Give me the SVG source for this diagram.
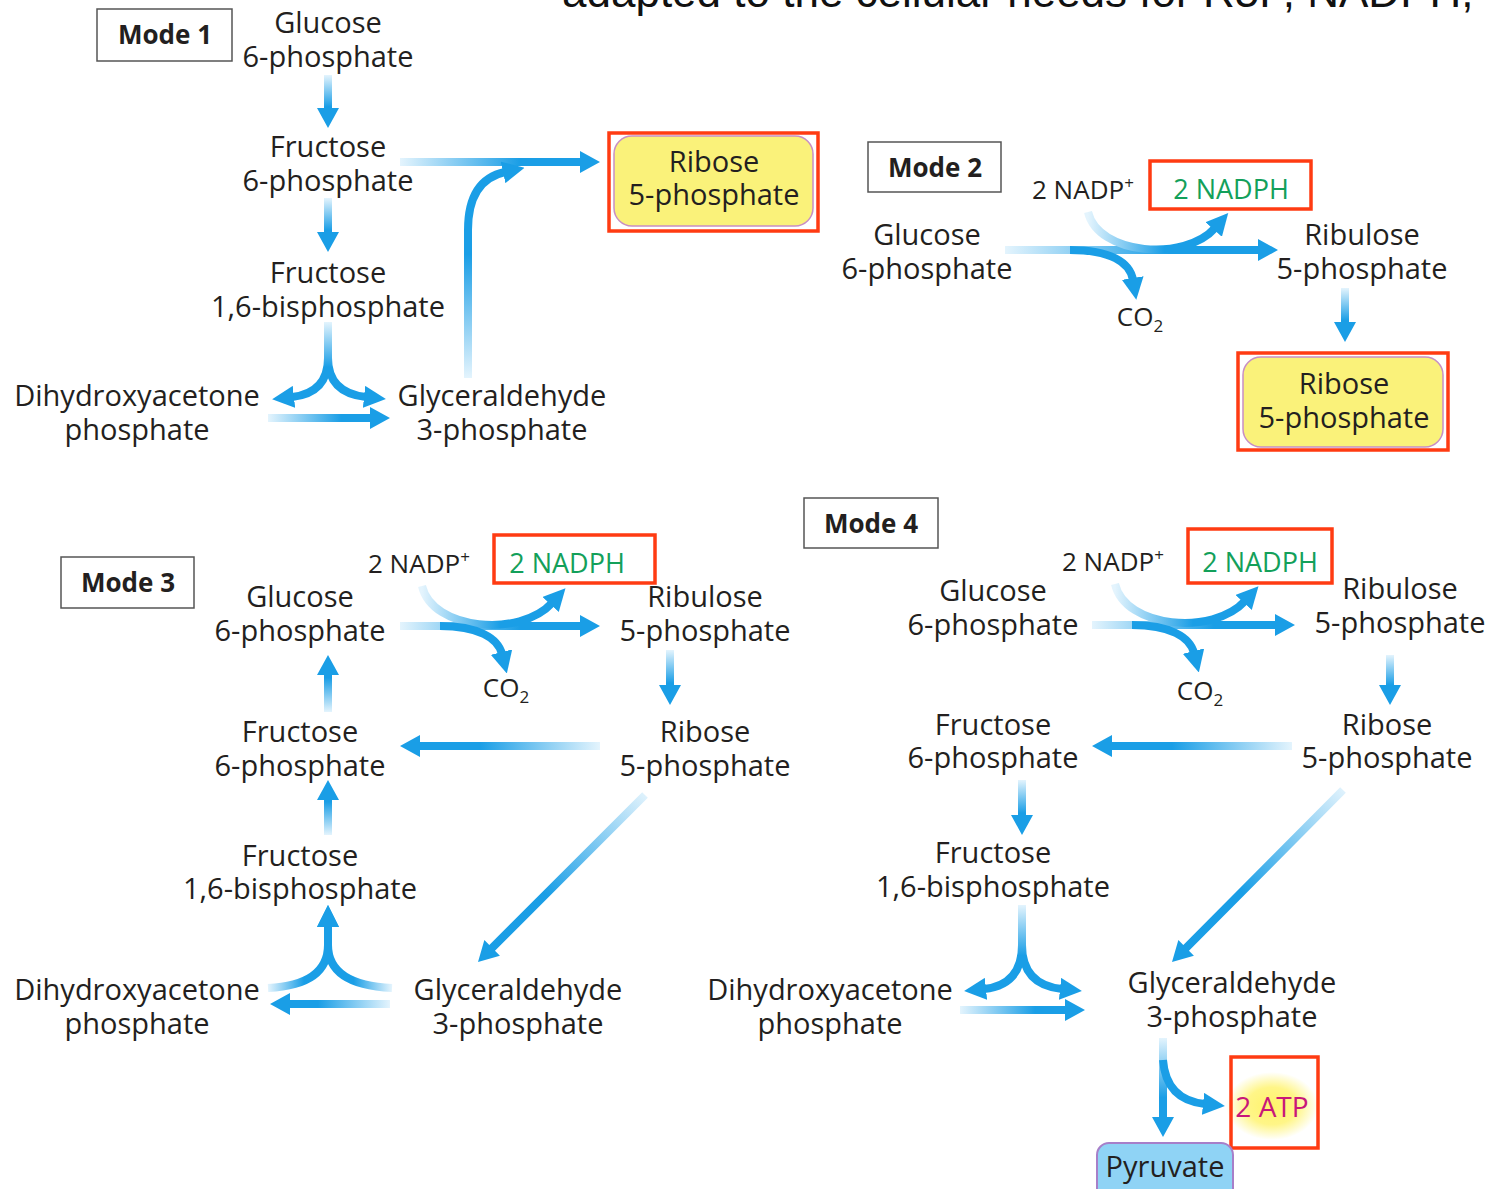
<svg xmlns="http://www.w3.org/2000/svg" width="1492" height="1189" viewBox="0 0 1492 1189">
<style>
.t{font-family:"Open Sans","Liberation Sans",sans-serif;font-size:29px;fill:#231f20;text-anchor:middle}
.s{font-family:"Open Sans","Liberation Sans",sans-serif;font-size:26px;fill:#231f20}
.g{font-family:"Open Sans","Liberation Sans",sans-serif;font-size:27px;fill:#13a05a;text-anchor:middle}
.m{font-family:"Open Sans","Liberation Sans",sans-serif;font-size:26px;font-weight:bold;fill:#231f20;text-anchor:middle}
.mb{fill:#fff;stroke:#555;stroke-width:1.5}
.rb{fill:none;stroke:#ff3b12;stroke-width:3.5}
.yb{fill:#faf27a;stroke:#c88fc3;stroke-width:1.5}
.c{fill:none;stroke-width:8;marker-end:url(#ah)}
</style>
<defs>
<marker id="ah" markerUnits="userSpaceOnUse" markerWidth="22" markerHeight="22" viewBox="0 0 22 22" refX="2" refY="11" orient="auto"><path d="M0,0 L22,11 L0,22 z" fill="#1a9ee6"/></marker>
<linearGradient id="gR" x1="0" y1="0" x2="1" y2="0"><stop offset="0" stop-color="#e4f4fd"/><stop offset="0.6" stop-color="#1a9ee6"/><stop offset="1" stop-color="#1a9ee6"/></linearGradient>
<linearGradient id="gL" x1="1" y1="0" x2="0" y2="0"><stop offset="0" stop-color="#e4f4fd"/><stop offset="0.6" stop-color="#1a9ee6"/><stop offset="1" stop-color="#1a9ee6"/></linearGradient>
<linearGradient id="gD" x1="0" y1="0" x2="0" y2="1"><stop offset="0" stop-color="#e4f4fd"/><stop offset="0.6" stop-color="#1a9ee6"/><stop offset="1" stop-color="#1a9ee6"/></linearGradient>
<linearGradient id="gU" x1="0" y1="1" x2="0" y2="0"><stop offset="0" stop-color="#e4f4fd"/><stop offset="0.6" stop-color="#1a9ee6"/><stop offset="1" stop-color="#1a9ee6"/></linearGradient>
<linearGradient id="gDL" x1="1" y1="0" x2="0" y2="1"><stop offset="0" stop-color="#e4f4fd"/><stop offset="0.6" stop-color="#1a9ee6"/><stop offset="1" stop-color="#1a9ee6"/></linearGradient>
<radialGradient id="glow"><stop offset="0" stop-color="#fff36a"/><stop offset="0.55" stop-color="#fff36a" stop-opacity="0.8"/><stop offset="1" stop-color="#fff36a" stop-opacity="0"/></radialGradient>
</defs>
<rect width="1492" height="1189" fill="#fff"/>
<text x="562" y="7" style="font-family:'Liberation Sans',sans-serif;font-size:44px;fill:#111">adapted to the cellular needs for R5P, NADPH,</text>

<g id="connectors">
<!-- Mode 1 -->
<polygon fill="url(#gD)" points="324,75 332,75 332,108 339,108 328,128 317,108 324,108"/>
<polygon fill="url(#gD)" points="324,198 332,198 332,232 339,232 328,252 317,232 324,232"/>
<polygon fill="url(#gR)" points="400,158 580,158 580,151 600,162 580,173 580,166 400,166"/>
<polygon fill="url(#gR)" points="268,414 370,414 370,407 390,418 370,429 370,422 268,422"/>
<path class="c" stroke="url(#gD)" d="M328,322 L328,358 Q328,393 292,397"/>
<path class="c" stroke="url(#gD)" d="M328,322 L328,358 Q328,393 366,397"/>
<path class="c" stroke="url(#gU)" d="M468,378 L468,230 Q468,180 505,172"/>
<!-- Mode 2 -->
<polygon fill="url(#gR)" points="1005,246 1258,246 1258,239 1278,250 1258,261 1258,254 1005,254"/>
<path class="c" stroke="url(#gR)" d="M1088,212 C1098,255 1185,262 1215,228"/>
<path class="c" stroke="#1a9ee6" d="M1070,250 C1110,250 1130,262 1133,280"/>
<polygon fill="url(#gD)" points="1341,288 1349,288 1349,322 1356,322 1345,342 1334,322 1341,322"/>
<!-- Mode 3 -->
<polygon fill="url(#gR)" points="400,622 580,622 580,615 600,626 580,637 580,630 400,630"/>
<path class="c" stroke="url(#gR)" d="M422,586 C432,630 520,638 552,603"/>
<path class="c" stroke="#1a9ee6" d="M440,626 C478,626 498,638 502,654"/>
<polygon fill="url(#gD)" points="666,650 674,650 674,685 681,685 670,705 659,685 666,685"/>
<polygon fill="url(#gL)" points="600,742 420,742 420,735 400,746 420,757 420,750 600,750"/>
<polygon fill="url(#gU)" points="324,712 324,675 317,675 328,655 339,675 332,675 332,712"/>
<polygon fill="url(#gU)" points="324,835 324,800 317,800 328,780 339,800 332,800 332,835"/>
<polygon fill="url(#gDL)" points="647.83,797.83 494.97,950.69 499.92,955.64 478,962 484.36,940.08 489.31,945.03 642.17,792.17"/>
<path class="c" stroke="url(#gR)" d="M268,988 Q328,985 328,945 L328,925"/>
<path class="c" stroke="url(#gL)" d="M392,988 Q328,985 328,945 L328,925"/>
<polygon fill="url(#gL)" points="390,1000 290,1000 290,993 270,1004 290,1015 290,1008 390,1008"/>
<!-- Mode 4 -->
<polygon fill="url(#gR)" points="1092,621 1275,621 1275,614 1295,625 1275,636 1275,629 1092,629"/>
<path class="c" stroke="url(#gR)" d="M1115,584 C1125,628 1213,636 1245,601"/>
<path class="c" stroke="#1a9ee6" d="M1132,625 C1170,625 1190,637 1194,653"/>
<polygon fill="url(#gD)" points="1386,655 1394,655 1394,685 1401,685 1390,705 1379,685 1386,685"/>
<polygon fill="url(#gL)" points="1292,742 1112,742 1112,735 1092,746 1112,757 1112,750 1292,750"/>
<polygon fill="url(#gD)" points="1018,780 1026,780 1026,815 1033,815 1022,835 1011,815 1018,815"/>
<path class="c" stroke="url(#gD)" d="M1022,905 L1022,945 Q1022,985 984,989"/>
<path class="c" stroke="url(#gD)" d="M1022,905 L1022,945 Q1022,985 1062,989"/>
<polygon fill="url(#gR)" points="960,1006 1065,1006 1065,999 1085,1010 1065,1021 1065,1014 960,1014"/>
<polygon fill="url(#gDL)" points="1345.83,792.83 1188.97,950.69 1193.92,955.64 1172,962 1178.36,940.08 1183.31,945.03 1340.17,787.17"/>
<polygon fill="url(#gD)" points="1159,1038 1167,1038 1167,1117 1174,1117 1163,1137 1152,1117 1159,1117"/>
<path class="c" stroke="#1a9ee6" d="M1163,1060 Q1166,1100 1205,1104"/>
</g>

<!-- Mode 1 -->
<g id="mode1"><rect class="mb" x="97" y="9" width="135" height="52"/><text class="m" x="165" y="44">Mode 1</text></g>
<g id="m1-g6p"><text class="t"><tspan x="328" y="33">Glucose</tspan><tspan x="328" dy="34">6-phosphate</tspan></text></g>
<g id="m1-f6p"><text class="t"><tspan x="328" y="157">Fructose</tspan><tspan x="328" dy="34">6-phosphate</tspan></text></g>
<g id="m1-fbp"><text class="t"><tspan x="328" y="283">Fructose</tspan><tspan x="328" dy="34">1,6-bisphosphate</tspan></text></g>
<g id="m1-dhap"><text class="t"><tspan x="137" y="406">Dihydroxyacetone</tspan><tspan x="137" dy="34">phosphate</tspan></text></g>
<g id="m1-gap"><text class="t"><tspan x="502" y="406">Glyceraldehyde</tspan><tspan x="502" dy="34">3-phosphate</tspan></text></g>
<g id="m1-r5p"><rect class="yb" x="614" y="136" width="199" height="90" rx="18"/><rect class="rb" x="609" y="133" width="209" height="98"/><text class="t"><tspan x="714" y="172">Ribose</tspan><tspan x="714" dy="33">5-phosphate</tspan></text></g>

<!-- Mode 2 -->
<g id="mode2"><rect class="mb" x="868" y="142" width="133" height="50"/><text class="m" x="935" y="177">Mode 2</text></g>
<g id="m2-nadp"><text class="s" x="1032" y="199">2 NADP<tspan font-size="17" dy="-10">+</tspan></text></g>
<g id="m2-nadph"><rect class="rb" x="1150" y="161" width="161" height="48"/><text class="g" x="1231" y="199">2 NADPH</text></g>
<g id="m2-g6p"><text class="t"><tspan x="927" y="245">Glucose</tspan><tspan x="927" dy="34">6-phosphate</tspan></text></g>
<g id="m2-co2"><text class="s" x="1140" y="326" text-anchor="middle">CO<tspan font-size="17" dy="6">2</tspan></text></g>
<g id="m2-ru5p"><text class="t"><tspan x="1362" y="245">Ribulose</tspan><tspan x="1362" dy="34">5-phosphate</tspan></text></g>
<g id="m2-r5p"><rect class="yb" x="1243" y="357" width="200" height="90" rx="18"/><rect class="rb" x="1238" y="353" width="210" height="97"/><text class="t"><tspan x="1344" y="394">Ribose</tspan><tspan x="1344" dy="34">5-phosphate</tspan></text></g>

<!-- Mode 3 -->
<g id="mode3"><rect class="mb" x="61" y="557" width="133" height="51"/><text class="m" x="128" y="592">Mode 3</text></g>
<g id="m3-nadp"><text class="s" x="368" y="573">2 NADP<tspan font-size="17" dy="-10">+</tspan></text></g>
<g id="m3-nadph"><rect class="rb" x="494" y="535" width="161" height="48"/><text class="g" x="567" y="573">2 NADPH</text></g>
<g id="m3-g6p"><text class="t"><tspan x="300" y="607">Glucose</tspan><tspan x="300" dy="34">6-phosphate</tspan></text></g>
<g id="m3-ru5p"><text class="t"><tspan x="705" y="607">Ribulose</tspan><tspan x="705" dy="34">5-phosphate</tspan></text></g>
<g id="m3-co2"><text class="s" x="506" y="697" text-anchor="middle">CO<tspan font-size="17" dy="6">2</tspan></text></g>
<g id="m3-r5p"><text class="t"><tspan x="705" y="742">Ribose</tspan><tspan x="705" dy="34">5-phosphate</tspan></text></g>
<g id="m3-f6p"><text class="t"><tspan x="300" y="742">Fructose</tspan><tspan x="300" dy="34">6-phosphate</tspan></text></g>
<g id="m3-fbp"><text class="t"><tspan x="300" y="866">Fructose</tspan><tspan x="300" dy="33">1,6-bisphosphate</tspan></text></g>
<g id="m3-dhap"><text class="t"><tspan x="137" y="1000">Dihydroxyacetone</tspan><tspan x="137" dy="34">phosphate</tspan></text></g>
<g id="m3-gap"><text class="t"><tspan x="518" y="1000">Glyceraldehyde</tspan><tspan x="518" dy="34">3-phosphate</tspan></text></g>

<!-- Mode 4 -->
<g id="mode4"><rect class="mb" x="804" y="498" width="134" height="50"/><text class="m" x="871" y="533">Mode 4</text></g>
<g id="m4-nadp"><text class="s" x="1062" y="571">2 NADP<tspan font-size="17" dy="-10">+</tspan></text></g>
<g id="m4-nadph"><rect class="rb" x="1188" y="529" width="144" height="54"/><text class="g" x="1260" y="572">2 NADPH</text></g>
<g id="m4-g6p"><text class="t"><tspan x="993" y="601">Glucose</tspan><tspan x="993" dy="34">6-phosphate</tspan></text></g>
<g id="m4-ru5p"><text class="t"><tspan x="1400" y="599">Ribulose</tspan><tspan x="1400" dy="34">5-phosphate</tspan></text></g>
<g id="m4-co2"><text class="s" x="1200" y="700" text-anchor="middle">CO<tspan font-size="17" dy="6">2</tspan></text></g>
<g id="m4-r5p"><text class="t"><tspan x="1387" y="735">Ribose</tspan><tspan x="1387" dy="33">5-phosphate</tspan></text></g>
<g id="m4-f6p"><text class="t"><tspan x="993" y="735">Fructose</tspan><tspan x="993" dy="33">6-phosphate</tspan></text></g>
<g id="m4-fbp"><text class="t"><tspan x="993" y="863">Fructose</tspan><tspan x="993" dy="34">1,6-bisphosphate</tspan></text></g>
<g id="m4-dhap"><text class="t"><tspan x="830" y="1000">Dihydroxyacetone</tspan><tspan x="830" dy="34">phosphate</tspan></text></g>
<g id="m4-gap"><text class="t"><tspan x="1232" y="993">Glyceraldehyde</tspan><tspan x="1232" dy="34">3-phosphate</tspan></text></g>
<g id="m4-atp"><ellipse cx="1272" cy="1106" rx="46" ry="34" fill="url(#glow)"/><rect class="rb" x="1231" y="1057" width="87" height="91"/><text x="1272" y="1117" text-anchor="middle" style="font-family:'Open Sans','Liberation Sans',sans-serif;font-size:28px;fill:#c8177a">2 ATP</text></g>
<g id="m4-pyr"><rect x="1097" y="1143" width="136" height="60" rx="12" fill="#8fd3f5" stroke="#a77fc9" stroke-width="2"/><text class="t" x="1165" y="1177">Pyruvate</text></g>
</svg>
